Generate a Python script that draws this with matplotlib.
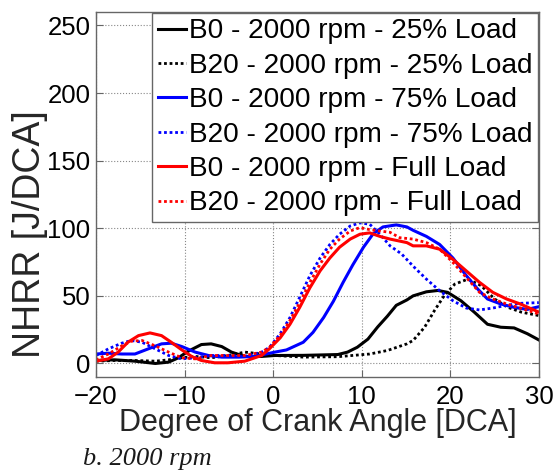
import matplotlib
matplotlib.use("Agg")
import matplotlib.pyplot as plt

plt.rcParams["font.family"] = ["Liberation Sans", "DejaVu Sans"]

# B0 - 25% load (black solid)
x_b0_25 = [-20, -17.9, -15.6, -13.3, -11.8, -10.7, -9.6, -8.1, -7, -5.8, -4.7, -3.2, -1.3, 0.2,
           3.4, 7.3, 8.4, 9.5, 10.7, 11.8, 12.9, 13.9, 15.1, 15.8, 17.3, 18.6, 19.7, 21.2,
           22.7, 24.2, 25.7, 27.2, 28.7, 30]
y_b0_25 = [2.2, 2.7, 1.7, 0, 1, 4.2, 9, 14, 14.5, 12.5, 8.4, 5.2, 5.2, 5.9,
           6, 6.6, 8.4, 12, 18, 27, 35, 43, 47, 50, 53, 54, 52.6, 46.4,
           38, 29, 26.8, 26.3, 22, 17.4]

# B20 - 25% load (black dotted)
x_b20_25 = [-20, -17.9, -15.6, -13.3, -11.8, -10.3, -8.8, -7, -5.1, -3.2, -1.3, 0.2, 3.4, 7.3,
            10.9, 12.9, 15.1, 15.8, 17.1, 18.2, 19.3, 20.5, 22, 23.5, 25, 26.5, 28, 30]
y_b20_25 = [1.7, 2.2, 2.2, 1.7, 2.7, 4.2, 5.2, 4.2, 5.9, 8.4, 7, 5.9, 4.7, 5,
            7, 9.6, 14.5, 17, 26.8, 39, 50, 58.7, 62.4, 57.5, 47.7, 41.5, 38, 35.4]

# B0 - 75% load (blue solid)
x_b0_75 = [-20, -18.6, -17.1, -15.6, -14.1, -12.6, -11.5, -10.3, -8.8, -7.3, -5.8, -3.9, -2.1,
           0.2, 1.5, 3.4, 4.5, 5.7, 6.8, 7.9, 9.0, 10.2, 11.3, 12.4, 13.9, 15.1, 15.8, 17.3,
           18.8, 20.3, 21.8, 23.1, 24.2, 25.7, 27.2, 28.7, 30]
y_b0_75 = [7, 7.6, 7, 7, 10.8, 14.5, 15, 12.5, 8.4, 5.9, 4.7, 4.7, 5.2,
           8.4, 10, 15.7, 23, 34, 46, 60, 73, 86, 96, 101, 102.5, 101, 98.5, 94,
           88, 78, 65, 55, 47.7, 44, 41.5, 40, 42]

# B20 - 75% load (blue dotted)
x_b20_75 = [-20, -18.6, -17.1, -16, -14.8, -13.3, -11.8, -10.3, -8.8, -7, -5.1, -3.2, -1.3,
            -0.4, 0.8, 1.9, 3.0, 4.15, 5.3, 6.4, 7.5, 8.7, 9.8, 10.9, 12.05, 13.2, 14.5,
            15.8, 17.3, 18.8, 20.3, 21.8, 23.3, 24.8, 26.35, 27.9, 30]
y_b20_75 = [5.9, 10.8, 15, 17, 15.7, 10.8, 5.9, 3.4, 4.2, 5.9, 5.9, 5.2, 8.4,
            12, 22, 34, 49, 65, 78, 88, 95.6, 101.7, 104, 103, 95.6, 87, 81,
            72, 62.4, 53.8, 46.4, 41, 39.6, 41, 43, 44.5, 45]

# B0 - full load (red solid)
x_b0_full = [-20, -18.6, -17.5, -16.4, -15.2, -13.9, -12.6, -11.5, -10.3, -9.2, -8.1, -6.6, -5.1,
             -3.2, -1.3, -0.4, 0.8, 1.9, 3.0, 4.15, 5.3, 6.4, 7.5, 8.7, 9.8, 10.9, 12.05, 13.2,
             15.1, 15.8, 17.3, 18.8, 20.3, 21.8, 23.3, 24.8, 26.35, 27.9, 30]
y_b0_full = [1.7, 3.4, 8.4, 15.7, 20.6, 22.6, 20.6, 15.7, 10, 5.2, 2.2, 0.5, 0.5,
             1.7, 5.9, 11, 19, 29, 41.5, 56, 68.5, 78, 86, 92, 95.6, 96.6, 94, 92,
             89.4, 87, 87, 84.5, 77, 68.5, 60, 52.6, 47.7, 44, 38]

# B20 - full load (red dotted)
x_b20_full = [-20, -18.6, -17.1, -16, -14.8, -13.3, -11.8, -10.3, -8.8, -7, -5.1, -3.2, -1.3,
              -0.4, 0.8, 1.9, 3.0, 4.15, 5.3, 6.4, 7.5, 8.7, 9.8, 10.9, 12.05, 13.2, 14.3,
              15.8, 17.3, 18.8, 20.3, 21.8, 23.3, 24.8, 26.35, 27.9, 30]
y_b20_full = [2.7, 7, 13, 16.5, 17, 13, 8.4, 4.2, 3.4, 5.9, 5.9, 5.9, 8.4,
              12, 20.6, 31.7, 45, 60, 73.5, 84.5, 92, 98, 100.5, 99, 98, 97, 93,
              92, 89.4, 84.5, 74.7, 63.6, 52.6, 47.7, 44, 41, 36.6]

labels = ["B0 - 2000 rpm - 25% Load", "B20 - 2000 rpm - 25% Load",
          "B0 - 2000 rpm - 75% Load", "B20 - 2000 rpm - 75% Load",
          "B0 - 2000 rpm - Full Load", "B20 - 2000 rpm - Full Load"]
xticks = [-20, -10, 0, 10, 20, 30]
yticks = [0, 50, 100, 150, 200, 250]

fig = plt.figure(figsize=(5.59, 4.71), dpi=100)
ax = fig.add_axes([0.1717, 0.1996, 0.7923, 0.775])

dot = (0, (1, 1))
ax.plot(x_b0_25, y_b0_25, color="k", lw=2.2, label=labels[0])
ax.plot(x_b20_25, y_b20_25, color="k", lw=2.0, ls=dot, label=labels[1])
ax.plot(x_b0_75, y_b0_75, color="b", lw=2.2, label=labels[2])
ax.plot(x_b20_75, y_b20_75, color="b", lw=2.0, ls=dot, label=labels[3])
ax.plot(x_b0_full, y_b0_full, color="r", lw=2.2, label=labels[4])
ax.plot(x_b20_full, y_b20_full, color="r", lw=2.0, ls=dot, label=labels[5])

ax.set_xlim(-20, 30)
ax.set_ylim(-10, 260)
ax.set_xticks(xticks)
ax.set_yticks(yticks)
ax.grid(True, ls=":", color="#888888", lw=0.8)
ax.tick_params(direction="in", length=5, width=0.8, color="#666666",
               top=True, right=True, labelsize=18.5, labelcolor="black")
ax.tick_params(axis="x", pad=6)
ax.tick_params(axis="y", pad=4)
for s in ax.spines.values():
    s.set_color("#666666")
    s.set_linewidth(1)

ax.set_xlabel("Degree of Crank Angle [DCA]", fontsize=22, color="#262626", labelpad=-1)
ax.set_ylabel("NHRR [J/DCA]", fontsize=27, color="#262626")
ax.yaxis.set_label_coords(-0.108, 0.392)

leg = ax.legend(loc="upper right", bbox_to_anchor=(1, 1), fontsize=20.2,
                handlelength=1.0, handletextpad=0.1, labelspacing=0.3,
                borderpad=0.2, borderaxespad=0.03, frameon=True, fancybox=False)
leg.get_frame().set_edgecolor("#666666")
leg.get_frame().set_linewidth(1)
leg.get_frame().set_alpha(1)

fig.text(0.148, 0.013, "b. 2000 rpm", fontsize=19, style="italic",
         family=["Liberation Serif", "DejaVu Serif"], color="#1a1a1a")

fig.savefig("out.png", dpi=100)
